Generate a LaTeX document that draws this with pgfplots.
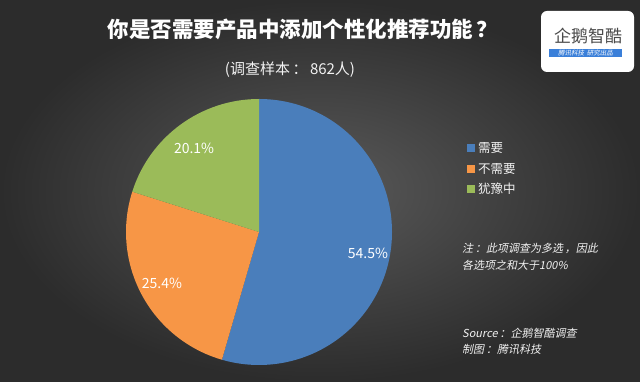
\documentclass[border=0pt]{standalone}
\usepackage{pgfplots}
\pgfplotsset{compat=1.18}
\usepackage{pgfplotstable}
\usepackage{fontspec}
\setmainfont{Noto Sans CJK SC}
\newfontfamily\cjkit[FakeSlant=0.2]{Noto Sans CJK SC}
\definecolor{pieblue}{HTML}{4A7EBB}
\definecolor{pieorange}{HTML}{F79646}
\definecolor{piegreen}{HTML}{9BBB59}
\definecolor{bgin}{HTML}{5A5A5A}
\definecolor{bgout}{HTML}{2C2C2C}
\definecolor{logoblue}{HTML}{3A7FD9}
\definecolor{logotext}{HTML}{4A4A4A}
\definecolor{txt}{HTML}{F2F2F2}

\pgfplotstableread{
value
54.5
25.4
20.1
}\piedata
\pgfplotstablegetelem{0}{value}\of\piedata \let\va\pgfplotsretval
\pgfplotstablegetelem{1}{value}\of\piedata \let\vb\pgfplotsretval
\pgfplotstablegetelem{2}{value}\of\piedata \let\vc\pgfplotsretval
\pgfmathsetmacro\aA{90-3.6*\va}
\pgfmathsetmacro\aB{\aA-3.6*\vb}
\pgfmathsetmacro\aC{\aB-3.6*\vc}
\pgfmathsetmacro\mA{(90+\aA)/2}
\pgfmathsetmacro\mB{(\aA+\aB)/2}
\pgfmathsetmacro\mC{(\aB+\aC)/2}

\begin{document}
\begin{tikzpicture}
\begin{axis}[
  scale only axis, width=640pt, height=382pt,
  xmin=0, xmax=640, ymin=0, ymax=382,
  hide axis, clip=false,
]
% background
\shade[inner color=bgin, outer color=bgout] (axis cs:0,0) rectangle (axis cs:640,382);
% pie
\fill[pieblue] (axis cs:259,150) -- ++(90:133pt) arc[start angle=90, end angle=\aA, radius=133pt] -- cycle;
\fill[pieorange] (axis cs:259,150) -- ++(\aA:133pt) arc[start angle=\aA, end angle=\aB, radius=133pt] -- cycle;
\fill[piegreen] (axis cs:259,150) -- ++(\aB:133pt) arc[start angle=\aB, end angle=\aC, radius=133pt] -- cycle;
% labels
\path (axis cs:259,150) ++(\mA:110pt) ++(0,-6pt) node[text=white, font=\fontsize{14}{14}\selectfont] {\va\%};
\path (axis cs:259,150) ++(\mB:110pt) node[text=white, font=\fontsize{14}{14}\selectfont] {\vb\%};
\path (axis cs:259,150) ++(\mC:110pt) ++(0,-5pt) node[text=white, font=\fontsize{14}{14}\selectfont] {\vc\%};
% title
\node[text=white, font=\fontsize{21.5}{21.5}\selectfont\bfseries] at (axis cs:303,353) {你是否需要产品中添加个性化推荐功能\,？};
\node[text=txt, font=\fontsize{15}{15}\selectfont] at (axis cs:290,312) {(调查样本\,：\,862人)};
% legend
\fill[pieblue] (axis cs:467,230) rectangle (axis cs:475,238);
\fill[pieorange] (axis cs:467,209) rectangle (axis cs:475,217);
\fill[piegreen] (axis cs:467,189) rectangle (axis cs:475,197);
\node[anchor=west, text=txt, font=\fontsize{12.5}{12.5}\selectfont, inner sep=0pt] at (axis cs:478,234) {需要};
\node[anchor=west, text=txt, font=\fontsize{12.5}{12.5}\selectfont, inner sep=0pt] at (axis cs:478,213) {不需要};
\node[anchor=west, text=txt, font=\fontsize{12.5}{12.5}\selectfont, inner sep=0pt] at (axis cs:478,193) {犹豫中};
% notes
\node[anchor=west, text=txt, font=\fontsize{11}{11}\selectfont\cjkit, inner sep=0pt] at (axis cs:462,134) {注\,：此项调查为多选\,，因此};
\node[anchor=west, text=txt, font=\fontsize{11}{11}\selectfont\cjkit, inner sep=0pt] at (axis cs:462,117) {各选项之和大于100\%};
\node[anchor=west, text=txt, font=\fontsize{11}{11}\selectfont\cjkit, inner sep=0pt] at (axis cs:462,49) {Source\,：企鹅智酷调查};
\node[anchor=west, text=txt, font=\fontsize{11}{11}\selectfont\cjkit, inner sep=0pt] at (axis cs:462,33) {制图\,：腾讯科技};
% logo
\fill[white, rounded corners=6pt] (axis cs:541,310) rectangle (axis cs:634,371);
\node[text=logotext, font=\fontsize{17}{17}\selectfont, inner sep=0pt] at (axis cs:588,346) {企鹅智酷};
\fill[logoblue] (axis cs:549,325) rectangle (axis cs:622,333);
\node[text=white, font=\fontsize{6.5}{6.5}\selectfont\cjkit, inner sep=0pt] at (axis cs:585.5,329) {腾讯科技\ \ 研究出品};
\end{axis}
\end{tikzpicture}
\end{document}
